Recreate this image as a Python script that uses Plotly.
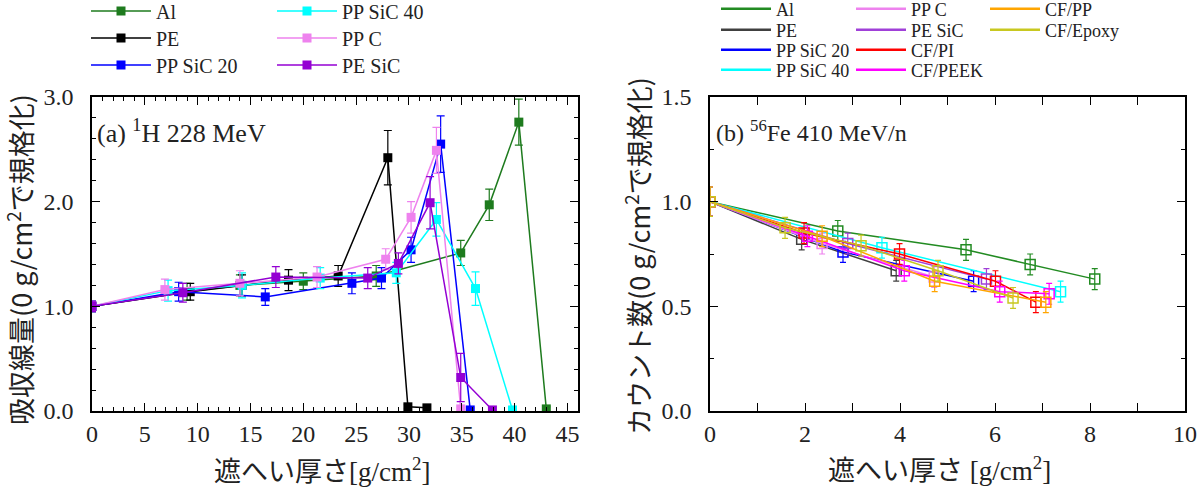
import plotly.graph_objects as go

# ---------------- Panel (a): 1H 228 MeV ----------------
a_names = ["Al", "PE", "PP SiC 20", "PP SiC 40", "PP C", "PE SiC"]
a_colors = ["#1e7b1e", "#000000", "#0000ff", "#00ffff", "#ee82ee", "#9400d3"]

a_al_x = [0, 9.0, 14.0, 20.0, 26.9, 34.9, 37.6, 40.4, 43.0]
a_al_y = [1.00, 1.14, 1.20, 1.24, 1.29, 1.51, 1.97, 2.76, 0.02]
a_al_e = [0.05, 0.08, 0.10, 0.08, 0.10, 0.12, 0.15, 0.22, 0.02]

a_pe_x = [0, 9.3, 14.2, 18.6, 23.3, 28.0, 29.9, 31.7]
a_pe_y = [1.00, 1.14, 1.20, 1.25, 1.29, 2.42, 0.04, 0.03]
a_pe_e = [0.05, 0.08, 0.10, 0.10, 0.10, 0.26, 0.02, 0.02]

a_s20_x = [0, 8.2, 16.4, 24.6, 27.4, 30.2, 33.0, 35.8]
a_s20_y = [1.00, 1.14, 1.09, 1.22, 1.27, 1.54, 2.55, 0.01]
a_s20_e = [0.05, 0.09, 0.08, 0.10, 0.10, 0.12, 0.27, 0.02]

a_s40_x = [0, 7.2, 14.2, 21.6, 28.8, 32.6, 36.3, 39.8]
a_s40_y = [1.00, 1.15, 1.20, 1.27, 1.32, 1.83, 1.17, 0.01]
a_s40_e = [0.05, 0.10, 0.12, 0.10, 0.10, 0.16, 0.16, 0.02]

a_ppc_x = [0, 6.9, 14.0, 21.3, 27.8, 30.2, 32.6, 34.9]
a_ppc_y = [1.00, 1.16, 1.22, 1.28, 1.45, 1.85, 2.49, 0.02]
a_ppc_e = [0.05, 0.10, 0.12, 0.10, 0.10, 0.15, 0.22, 0.02]

a_pes_x = [0, 8.6, 17.4, 26.1, 29.0, 32.0, 34.9, 37.9]
a_pes_y = [1.00, 1.13, 1.28, 1.27, 1.41, 1.99, 0.32, 0.01]
a_pes_e = [0.05, 0.09, 0.10, 0.10, 0.10, 0.25, 0.23, 0.02]

a_series = [
    (a_al_x, a_al_y, a_al_e),
    (a_pe_x, a_pe_y, a_pe_e),
    (a_s20_x, a_s20_y, a_s20_e),
    (a_s40_x, a_s40_y, a_s40_e),
    (a_ppc_x, a_ppc_y, a_ppc_e),
    (a_pes_x, a_pes_y, a_pes_e),
]

# ---------------- Panel (b): 56Fe 410 MeV/n ----------------
b_names = ["Al", "PE", "PP SiC 20", "PP SiC 40", "PP C", "PE SiC",
           "CF/PI", "CF/PEEK", "CF/PP", "CF/Epoxy"]
b_colors = ["#228b22", "#404040", "#0000ff", "#00ffff", "#ee82ee", "#a040d8",
            "#ff0000", "#ff00ff", "#ffa500", "#c8c820"]

b_al_x = [0, 2.69, 5.39, 6.74, 8.10]
b_al_y = [1.00, 0.86, 0.77, 0.70, 0.63]
b_pe_x = [0, 1.93, 3.92]
b_pe_y = [1.00, 0.82, 0.67]
b_s20_x = [0, 2.80, 5.55]
b_s20_y = [1.00, 0.76, 0.62]
b_s40_x = [0, 3.62, 7.38]
b_s40_y = [1.00, 0.78, 0.57]
b_ppc_x = [0, 2.36, 4.72]
b_ppc_y = [1.00, 0.80, 0.64]
b_pes_x = [0, 2.90, 5.82]
b_pes_y = [1.00, 0.80, 0.63]
b_cfpi_x = [0, 1.98, 3.99, 6.01, 6.86]
b_cfpi_y = [1.00, 0.85, 0.75, 0.62, 0.52]
b_peek_x = [0, 2.05, 4.09, 6.10, 7.14]
b_peek_y = [1.00, 0.835, 0.67, 0.57, 0.56]
b_cfpp_x = [0, 2.36, 4.73, 7.07]
b_cfpp_y = [1.00, 0.835, 0.62, 0.52]
b_epox_x = [0, 1.58, 3.18, 4.80, 6.38]
b_epox_y = [1.00, 0.875, 0.79, 0.67, 0.54]
b_err = 0.05

b_series = [
    (b_al_x, b_al_y), (b_pe_x, b_pe_y), (b_s20_x, b_s20_y), (b_s40_x, b_s40_y),
    (b_ppc_x, b_ppc_y), (b_pes_x, b_pes_y), (b_cfpi_x, b_cfpi_y),
    (b_peek_x, b_peek_y), (b_cfpp_x, b_cfpp_y), (b_epox_x, b_epox_y),
]

SERIF = "Liberation Serif"
SERIF_CJK = "Liberation Serif, Noto Sans CJK JP"
SANS_CJK = "Noto Sans CJK JP"

W, H = 1200, 490


def fx(p):
    return p / W


def fy(p):
    return 1 - p / H


# legend slot positions (pixels: left x, centre y) -- layout only
a_leg_pos = [(86, 11), (86, 38), (86, 65), (272, 11), (272, 38), (272, 65)]
b_leg_pos = [(716, 9), (716, 30), (716, 50), (716, 70),
             (851, 9), (851, 30), (851, 50), (851, 70),
             (985, 9), (985, 30)]

fig = go.Figure()
legends = {}

for i, (name, color, (x, y, e)) in enumerate(zip(a_names, a_colors, a_series)):
    lid = "legend" if i == 0 else f"legend{i + 1}"
    fig.add_trace(go.Scatter(
        x=x, y=y, name=name, mode="lines+markers",
        line=dict(color=color, width=1.5),
        marker=dict(symbol="square", size=9, color=color),
        error_y=dict(type="data", array=e, visible=True, color=color,
                     thickness=1.2, width=4),
        xaxis="x", yaxis="y", legend=lid,
    ))
    px, py = a_leg_pos[i]
    legends[lid] = dict(x=fx(px), y=fy(py), xanchor="left", yanchor="middle",
                        font=dict(family=SERIF, size=20, color="#222"),
                        bgcolor="rgba(0,0,0,0)", itemwidth=60)

for j, (name, color, (x, y)) in enumerate(zip(b_names, b_colors, b_series)):
    lid = f"legend{j + 7}"
    fig.add_trace(go.Scatter(
        x=x, y=y, name=name, mode="lines+markers", showlegend=False,
        line=dict(color=color, width=1.5),
        marker=dict(symbol="square-open", size=10, color=color,
                    line=dict(width=1.5, color=color)),
        error_y=dict(type="data", array=[b_err + 0.02] + [b_err] * (len(y) - 1),
                     visible=True, color=color, thickness=1.2, width=3),
        xaxis="x2", yaxis="y2",
    ))
    # line-only legend entry for panel (b)
    fig.add_trace(go.Scatter(
        x=[None], y=[None], name=name, mode="lines",
        line=dict(color=color, width=2.5),
        xaxis="x2", yaxis="y2", legend=lid, showlegend=True,
    ))
    px, py = b_leg_pos[j]
    legends[lid] = dict(x=fx(px), y=fy(py), xanchor="left", yanchor="middle",
                        font=dict(family=SERIF, size=18, color="#222"),
                        bgcolor="rgba(0,0,0,0)", itemwidth=50)

axis_common = dict(
    showline=True, linecolor="black", linewidth=1.5, mirror="ticks",
    ticks="inside", ticklen=8, tickwidth=1, tickcolor="black",
    showgrid=False, zeroline=False, automargin=False,
    tickfont=dict(family=SERIF, size=24, color="#222"),
)

y_dom = [fy(411), fy(97)]

titles = [
    # (text, x px, y px, angle, family)
    ("遮へい厚さ[g/cm<sup>2</sup>]", 322, 470, 0, SERIF_CJK),
    ("遮へい厚さ [g/cm<sup>2</sup>]", 939, 469, 0, SERIF_CJK),
    ("吸収線量(0 g/cm<sup>2</sup>で規格化)", 19, 260, -90, SANS_CJK),
    ("カウント数(0 g/cm<sup>2</sup>で規格化)", 637, 256, -90, SANS_CJK),
]
annotations = [
    dict(text=t, xref="paper", yref="paper", x=fx(px), y=fy(py), textangle=ang,
         xanchor="center", yanchor="middle", showarrow=False,
         font=dict(family=fam, size=27, color="#222"))
    for t, px, py, ang, fam in titles
]
annotations += [
    dict(text="(a) <sup>1</sup>H 228 MeV", xref="paper", yref="paper",
         x=fx(95), y=fy(131), xanchor="left", yanchor="middle",
         showarrow=False, font=dict(family=SERIF, size=26, color="#222")),
    dict(text="(b) <sup>56</sup>Fe 410 MeV/n", xref="paper", yref="paper",
         x=fx(714), y=fy(131), xanchor="left", yanchor="middle",
         showarrow=False, font=dict(family=SERIF, size=24, color="#222")),
]

fig.update_layout(
    width=W, height=H,
    margin=dict(l=0, r=0, t=0, b=0, autoexpand=False),
    paper_bgcolor="white", plot_bgcolor="white",
    xaxis=dict(domain=[fx(92), fx(578)], range=[0, 46], dtick=5, tick0=0,
               minor=dict(ticks="inside", dtick=1, ticklen=4, tickcolor="black"),
               anchor="y", **axis_common),
    yaxis=dict(domain=y_dom, range=[0, 3.0], dtick=1, tick0=0, tickformat=".1f",
               minor=dict(ticks="inside", dtick=0.2, ticklen=4, tickcolor="black"),
               ticklabelstandoff=12, anchor="x", **axis_common),
    xaxis2=dict(domain=[fx(710), fx(1185)], range=[0, 10], dtick=2, tick0=0,
                minor=dict(ticks="inside", dtick=1, ticklen=8, tickcolor="black"),
                anchor="y2", **axis_common),
    yaxis2=dict(domain=y_dom, range=[0, 1.5], dtick=0.5, tick0=0, tickformat=".1f",
                minor=dict(ticks="inside", dtick=0.25, ticklen=4, tickcolor="black"),
                ticklabelstandoff=12, anchor="x2", **axis_common),
    annotations=annotations,
    **legends,
)

fig.write_html("out.html", config={"displayModeBar": False},
               post_script="document.body.style.margin='0px';")
